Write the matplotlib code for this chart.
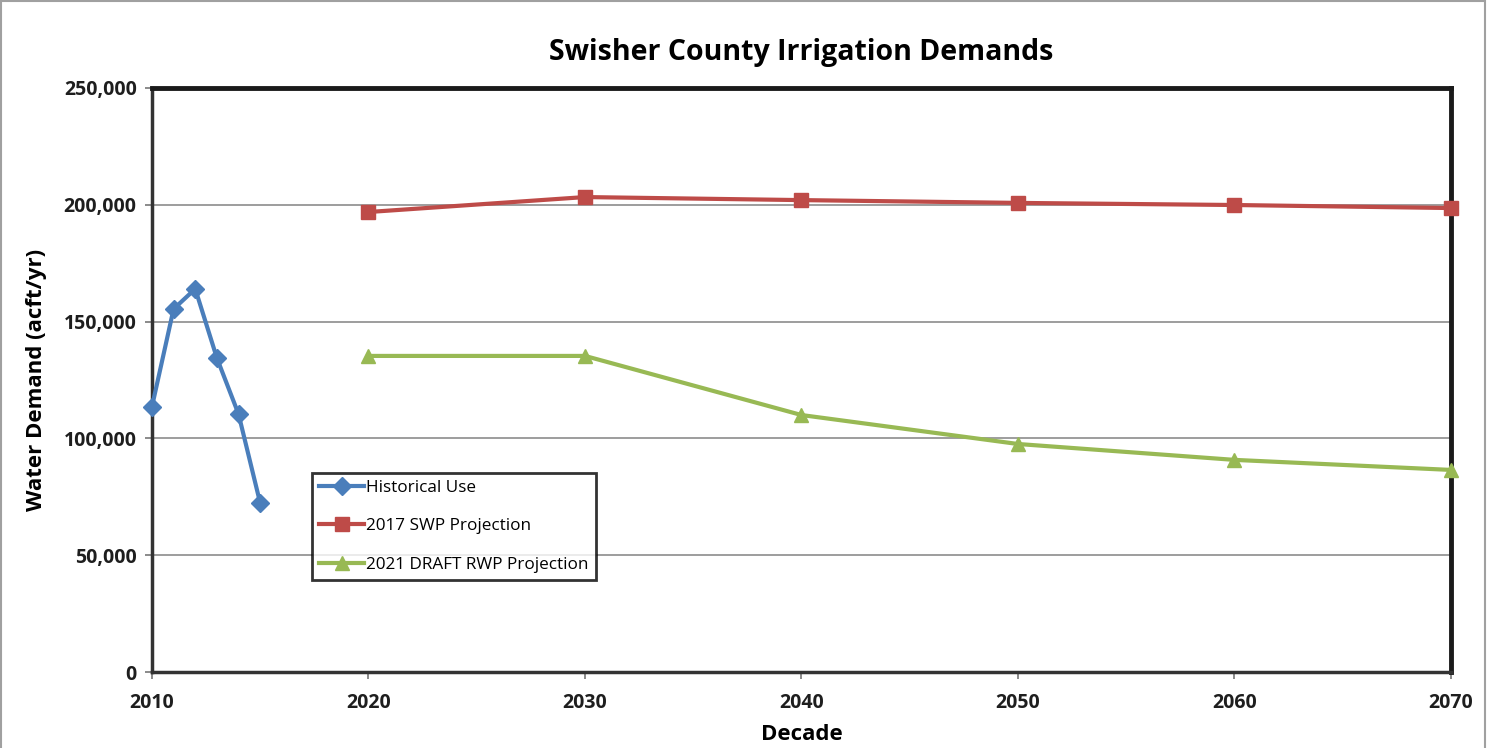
import matplotlib.pyplot as plt
from matplotlib.ticker import FuncFormatter
from matplotlib.patches import Rectangle

plt.rcParams['font.family'] = ['Open Sans', 'DejaVu Sans']

hist_years = [2010, 2011, 2012, 2013, 2014, 2015]
hist_use = [113500, 155400, 164000, 134400, 110400, 72300]
decades = [2020, 2030, 2040, 2050, 2060, 2070]
swp_2017 = [196900, 203300, 202000, 200800, 199900, 198600]
rwp_2021 = [135300, 135300, 110000, 97600, 90800, 86500]
x_ticks = [2010, 2020, 2030, 2040, 2050, 2060, 2070]

fig = plt.figure(figsize=(14.94, 7.48), dpi=100)
ax = fig.add_axes([0.1017, 0.1016, 0.8695, 0.7808])
fig.patches.append(Rectangle((0.001, -0.01), 0.993, 1.008, transform=fig.transFigure,
                             fill=False, edgecolor='#a0a0a0', linewidth=1.5))

ax.plot(hist_years, hist_use, color='#4a7ebb', lw=3, marker='D', ms=9,
        label='Historical Use', clip_on=False, zorder=4)
ax.plot(decades, swp_2017, color='#be4b48', lw=3, marker='s', ms=10,
        label='2017 SWP Projection', clip_on=False, zorder=4)
ax.plot(decades, rwp_2021, color='#98b954', lw=3, marker='^', ms=10,
        label='2021 DRAFT RWP Projection', clip_on=False, zorder=4)

ax.set_xlim(2010, 2070)
ax.set_ylim(0, 250000)
ax.set_xticks(x_ticks)
ax.set_yticks(range(0, 250001, 50000))
ax.yaxis.set_major_formatter(FuncFormatter(lambda v, p: f'{int(v):,}'))
ax.grid(axis='y', color='#8c8c8c', lw=1.2)
ax.set_axisbelow(True)
for s in ['top', 'right']:
    ax.spines[s].set_linewidth(3.5)
    ax.spines[s].set_color('#1a1a1a')
for s in ['left', 'bottom']:
    ax.spines[s].set_linewidth(2.5)
    ax.spines[s].set_color('#333333')
for lab in ax.get_xticklabels() + ax.get_yticklabels():
    lab.set_fontweight('bold')
    lab.set_color('#1e1e1e')
ax.tick_params(labelsize=14, length=5, width=1.2, color='#777777', pad=6)
ax.tick_params(axis='x', pad=10)

ax.set_title('Swisher County Irrigation Demands', fontsize=20.5, fontweight='bold', pad=20)
ax.set_xlabel('Decade', fontsize=16, fontweight='bold', labelpad=8)
ax.set_ylabel('Water Demand (acft/yr)', fontsize=16, fontweight='bold', labelpad=12)

leg = ax.legend(loc='lower left', bbox_to_anchor=(0.123, 0.157), fontsize=12.3,
                frameon=True, fancybox=False, edgecolor='black', handlelength=2.6,
                handletextpad=0.1, labelspacing=1.3, borderaxespad=0, borderpad=0.45)
leg.get_frame().set_linewidth(2)

fig.savefig('out.png', dpi=100)
